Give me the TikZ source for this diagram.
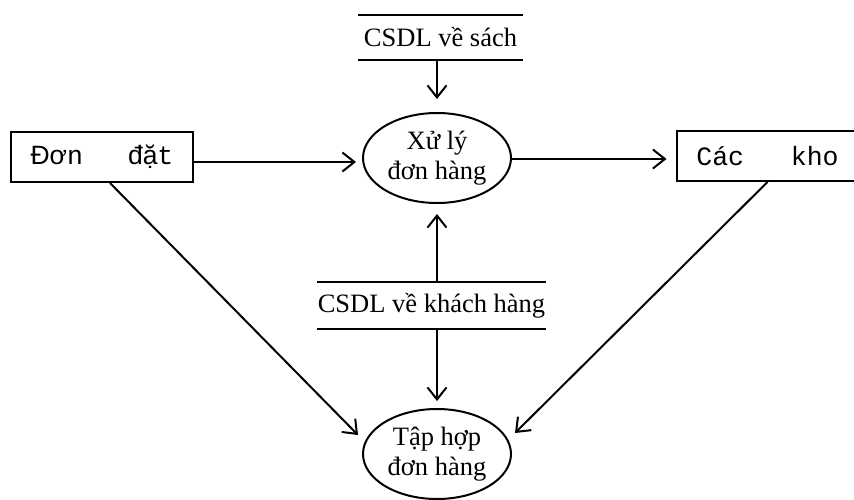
\documentclass[tikz,border=0pt]{standalone}
\usepackage{fontspec}
\setmainfont{Liberation Serif}
\newfontfamily\arialf{Liberation Sans}
\newfontfamily\courf{Liberation Mono}
\usetikzlibrary{shapes.geometric,arrows.meta,calc}
\begin{document}
\begin{tikzpicture}[x=1pt,y=-1pt,line width=2pt,
  txt/.style={font=\fontsize{26.5}{29.5}\selectfont},
  proc/.style={ellipse,draw,minimum width=148pt,minimum height=90pt,inner sep=0pt,align=center,txt},
  ext/.style={draw,minimum width=182pt,minimum height=50pt,inner sep=0pt,txt},
  store/.style={minimum width=163pt,minimum height=43pt,inner sep=0pt,txt},
  arr/.style={-{Straight Barb[length=12pt,width=19pt]}}]
\useasboundingbox (0,0) rectangle (854,499);
\node[proc] (e1) at (437,158) {Xử lý\\đơn hàng};
\node[proc] (e2) at (437,454) {Tập hợp\\đơn hàng};
\node[ext] (b1) at (102,157) {{\arialf Đơ}{\courf n}\hspace{45pt}{\arialf đặ}{\courf t}};
\node[ext] (b2) at (767.5,156) {\courf Các\hspace{46.8pt}kho};
\node[store] (s1) at (440.5,37.5) {CSDL về sách};
\draw (s1.north west) -- (s1.north east) (s1.south west) -- (s1.south east);
\node[store,minimum width=221pt,minimum height=45pt] (s2) at (431.5,305.5) {CSDL về khách hàng};
\draw (s2.north west) -- (s2.north east) (s2.south west) -- (s2.south east);
\draw[arr,shorten >=13pt] (s1.south -| e1) -- (e1);
\draw[arr,shorten >=6pt] ([yshift=-5pt]b1.east) -- ([yshift=-4pt]e1.west);
\draw[arr,shorten >=9pt] ([yshift=-1pt]e1.east) -- ([yshift=-3pt]b2.west);
\draw[arr,shorten >=10pt] (s2.north -| e1) -- (e1);
\draw[arr,shorten >=7pt] (s2.south -| e2) -- (e2);
\draw[arr] ([xshift=8pt]b1.south) -- ($(e2)+(-79,-19)$);
\draw[arr] (b2.south) -- ($(e2)+(78,-21)$);
\end{tikzpicture}
\end{document}
